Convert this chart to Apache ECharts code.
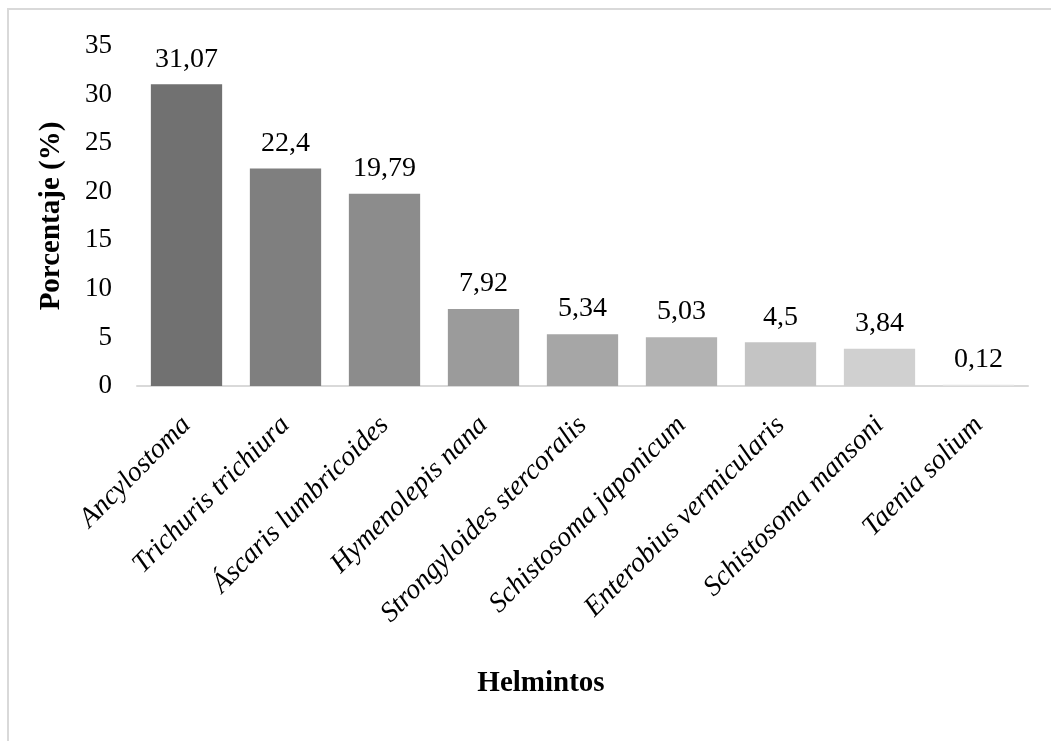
<!DOCTYPE html>
<html>
<head>
<meta charset="utf-8">
<script src="https://cdn.jsdelivr.net/npm/echarts@6/dist/echarts.min.js"></script>
<style>
  html, body { margin: 0; padding: 0; background: #fff; }
  #frame { position: absolute; left: 7px; top: 8px; width: 1060px; height: 760px;
           border: 2px solid #d9d9d9; box-sizing: border-box; }
  #chart { position: absolute; left: 0; top: 0; width: 1051px; height: 741px; }
</style>
</head>
<body>
<div id="frame"></div>
<div id="chart"></div>
<script>
// Prevalencia de helmintos (%)
const categories = [
  'Ancylostoma', 'Trichuris trichiura', 'Áscaris lumbricoides', 'Hymenolepis nana',
  'Strongyloides stercoralis', 'Schistosoma japonicum', 'Enterobius vermicularis',
  'Schistosoma mansoni', 'Taenia solium'
];
const values = [31.07, 22.4, 19.79, 7.92, 5.34, 5.03, 4.5, 3.84, 0.12];
const barColors = ['#717171', '#7f7f7f', '#8c8c8c', '#9b9b9b', '#a6a6a6',
                   '#b3b3b3', '#c4c4c4', '#d0d0d0', '#e3e3e3'];
const yTicks = [0, 5, 10, 15, 20, 25, 30, 35];

const serif = '"Liberation Serif", "Times New Roman", serif';
const chart = echarts.init(document.getElementById('chart'));

chart.setOption({
  backgroundColor: 'transparent',
  animation: false,
  grid: { left: 137, right: 23, top: 46, bottom: 355 },
  xAxis: {
    type: 'category',
    data: categories,
    axisLine: { lineStyle: { color: '#d9d9d9', width: 2 } },
    axisTick: { show: false },
    axisLabel: {
      interval: 0, rotate: 45, margin: 35,
      fontFamily: serif, fontSize: 28, fontStyle: 'italic', color: '#000'
    }
  },
  yAxis: {
    type: 'value',
    min: yTicks[0], max: yTicks[yTicks.length - 1], interval: 5,
    name: 'Porcentaje (%)',
    nameLocation: 'middle', nameGap: 71,
    nameTextStyle: { fontFamily: serif, fontSize: 29, fontWeight: 'bold', color: '#000' },
    axisLine: { show: false },
    axisTick: { show: false },
    splitLine: { show: false },
    axisLabel: { fontFamily: serif, fontSize: 27, color: '#000', margin: 25 }
  },
  graphic: [{
    type: 'text',
    x: 541, y: 684,
    style: {
      text: 'Helmintos', font: 'bold 29px ' + serif, fill: '#000',
      textAlign: 'center', textVerticalAlign: 'middle'
    }
  }],
  series: [{
    type: 'bar',
    data: values.map((v, i) => ({ value: v, itemStyle: { color: barColors[i] } })),
    barCategoryGap: '28%',
    label: {
      show: true, position: 'top', distance: 11,
      fontFamily: serif, fontSize: 28, color: '#000',
      formatter: p => String(p.value).replace('.', ',')
    }
  }]
});
</script>
</body>
</html>
